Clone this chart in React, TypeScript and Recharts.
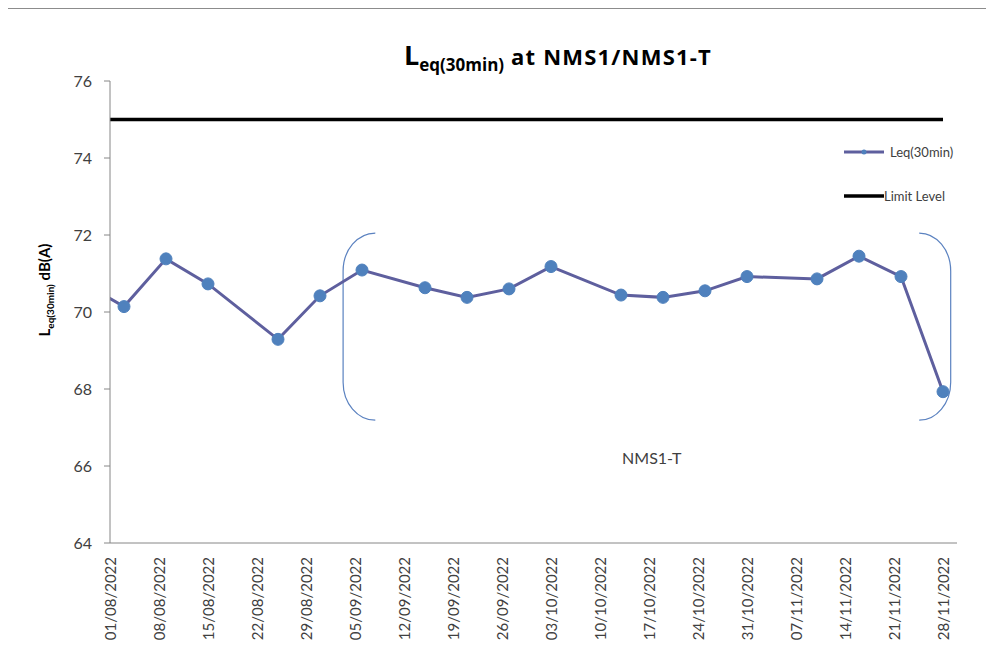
import React from 'react';
import {
  LineChart, Line, XAxis, YAxis, ReferenceArea, ReferenceDot,
} from 'recharts';

// measurement dates (first one sits before the axis start and gets clipped)
const sampleDates = [
  '27/07/2022', '03/08/2022', '09/08/2022', '15/08/2022', '25/08/2022', '31/08/2022',
  '06/09/2022', '15/09/2022', '21/09/2022', '27/09/2022', '03/10/2022', '13/10/2022',
  '19/10/2022', '25/10/2022', '31/10/2022', '10/11/2022', '16/11/2022', '22/11/2022',
  '28/11/2022',
];
const leqValues = [
  70.87, 70.14, 71.38, 70.73, 69.29, 70.42,
  71.09, 70.63, 70.38, 70.6, 71.18, 70.44,
  70.38, 70.55, 70.92, 70.86, 71.45, 70.92,
  67.93,
];
const limitDates = ['01/08/2022', '28/11/2022'];
const limitValues = [75, 75];
const tickDates = [
  '01/08/2022', '08/08/2022', '15/08/2022', '22/08/2022', '29/08/2022', '05/09/2022',
  '12/09/2022', '19/09/2022', '26/09/2022', '03/10/2022', '10/10/2022', '17/10/2022',
  '24/10/2022', '31/10/2022', '07/11/2022', '14/11/2022', '21/11/2022', '28/11/2022',
];
const axisStart = '01/08/2022';
const axisEnd = '30/11/2022';
const yTicks = [64, 66, 68, 70, 72, 74, 76];

const toDay = (s: string) => {
  const [d, m, y] = s.split('/').map(Number);
  const [d0, m0, y0] = axisStart.split('/').map(Number);
  return Math.round((Date.UTC(y, m - 1, d) - Date.UTC(y0, m0 - 1, d0)) / 86400000);
};
const dayLabel = new Map(tickDates.map((t) => [toDay(t), t]));

const leqData = sampleDates.map((d, i) => ({ day: toDay(d), leq: leqValues[i] }));
const limitData = limitDates.map((d, i) => ({ day: toDay(d), limit: limitValues[i] }));

const FONT = 'Lato, "Open Sans", sans-serif';
const LINE = '#5e5f9e';
const DOT = '#4f81bd';
const BRACKET = '#5b82c0';

function DateTick({ x, y, payload }: any) {
  return (
    <text
      transform={`translate(${x},${y + 6}) rotate(-90)`}
      textAnchor="end"
      dominantBaseline="central"
      fontSize={15}
      fontFamily={FONT}
      fill="#404040"
    >
      {dayLabel.get(payload.value)}
    </text>
  );
}

function YLabel({ viewBox }: any) {
  const cx = viewBox.x + 50;
  const cy = 290;
  return (
    <text
      transform={`translate(${cx},${cy}) rotate(-90)`}
      textAnchor="middle"
      fontFamily={FONT}
      fontWeight={700}
      fill="#000"
    >
      <tspan fontSize={15}>L</tspan>
      <tspan fontSize={10} dy={4}>eq(30min)</tspan>
      <tspan fontSize={15} dy={-4}> dB(A)</tspan>
    </text>
  );
}

// left "(" and right ")" brackets around the NMS1-T period
function LeftBracket({ x, y, width, height }: any) {
  const ry = 38;
  const d = `M${x + width},${y} A${width},${ry} 0 0 0 ${x},${y + ry} L${x},${y + height - ry} A${width},${ry} 0 0 0 ${x + width},${y + height}`;
  return <path d={d} fill="none" stroke={BRACKET} strokeWidth={1.2} />;
}
function RightBracket({ x, y, width, height }: any) {
  const ry = 38;
  const d = `M${x},${y} A${width},${ry} 0 0 1 ${x + width},${y + ry} L${x + width},${y + height - ry} A${width},${ry} 0 0 1 ${x},${y + height}`;
  return <path d={d} fill="none" stroke={BRACKET} strokeWidth={1.2} />;
}

function LegendBox() {
  const text = { fontSize: 13, color: '#404040', fontFamily: FONT };
  return (
    <div style={{ position: 'absolute', left: 844, top: 142 }}>
      <div style={{ display: 'flex', alignItems: 'center', height: 20 }}>
        <svg width={42} height={10}>
          <line x1={0} y1={5} x2={40} y2={5} stroke={LINE} strokeWidth={3} />
          <circle cx={20} cy={5} r={2.5} fill={DOT} />
        </svg>
        <span style={{ ...text, marginLeft: 4 }}>Leq(30min)</span>
      </div>
      <div style={{ display: 'flex', alignItems: 'center', height: 20, marginTop: 24 }}>
        <svg width={40} height={10}>
          <line x1={0} y1={5} x2={40} y2={5} stroke="#000" strokeWidth={3.5} />
        </svg>
        <span style={{ ...text, marginLeft: 0 }}>Limit Level</span>
      </div>
    </div>
  );
}

export default function App() {
  return (
    <div style={{ position: 'relative', margin: -8, width: 994, height: 656, overflow: 'hidden', background: '#fff', fontFamily: FONT }}>
      <div style={{ position: 'absolute', left: 0, width: 1116, top: 36, textAlign: 'center', fontWeight: 700, color: '#000', whiteSpace: 'nowrap', fontFamily: '"Open Sans", sans-serif' }}>
        <span style={{ fontSize: 27 }}>L</span>
        <span style={{ fontSize: 17, verticalAlign: -6 }}>eq(30min)</span>
        <span style={{ fontSize: 22, letterSpacing: 1.2 }}> at NMS1/NMS1-T</span>
      </div>
      <LineChart
        width={994}
        height={656}
        margin={{ top: 81, right: 37, bottom: 0, left: 0 }}
        style={{ position: 'absolute', left: 0, top: 0 }}
      >
        <XAxis
          type="number"
          dataKey="day"
          domain={[toDay(axisStart), toDay(axisEnd)]}
          ticks={tickDates.map(toDay)}
          allowDataOverflow
          height={113}
          axisLine={{ stroke: '#868686' }}
          tickLine={false}
          tick={<DateTick />}
          interval={0}
        />
        <YAxis
          type="number"
          domain={[64, 76]}
          ticks={yTicks}
          width={110}
          axisLine={{ stroke: '#868686' }}
          tickLine={{ stroke: '#868686' }}
          tickSize={6}
          tickMargin={12}
          tick={{ fontSize: 16, fill: '#404040', fontFamily: FONT }}
          interval={0}
          label={<YLabel />}
        />
        <ReferenceArea x1={33.3} x2={37.9} y1={67.19} y2={72.05} shape={<LeftBracket />} />
        <ReferenceArea x1={115.6} x2={120.1} y1={67.19} y2={72.05} shape={<RightBracket />} />
        <ReferenceDot
          x={77.4}
          y={66.21}
          r={0}
          label={{ value: 'NMS1-T', position: 'center', fontSize: 16, fill: '#404040', fontFamily: FONT }}
        />
        <Line
          data={limitData}
          dataKey="limit"
          stroke="#000"
          strokeWidth={3.5}
          dot={false}
          isAnimationActive={false}
          name="Limit Level"
        />
        <Line
          data={leqData}
          dataKey="leq"
          stroke={LINE}
          strokeWidth={3}
          dot={{ r: 6, fill: DOT, stroke: DOT, strokeWidth: 1 }}
          isAnimationActive={false}
          name="Leq(30min)"
        />
      </LineChart>
      <LegendBox />
      <svg width={994} height={656} style={{ position: 'absolute', left: 0, top: 0, pointerEvents: 'none' }}>
        <path d="M5.5,700 L5.5,8.5 L1000,8.5" fill="none" stroke="#8c8c8c" strokeWidth={1.2} />
      </svg>
    </div>
  );
}
